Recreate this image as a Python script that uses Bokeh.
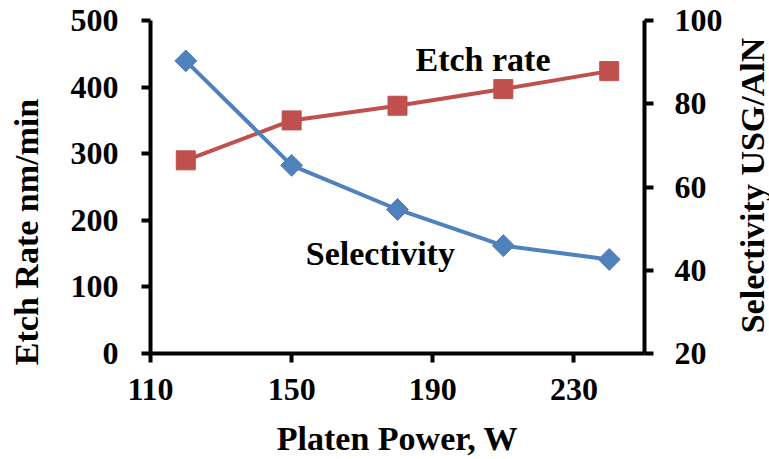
import numpy as np
from bokeh.plotting import figure
from bokeh.layouts import row
from bokeh.models import Range1d, LinearAxis, FixedTicker, Label
from bokeh.embed import file_html
from bokeh.resources import INLINE

# ---- data ----
power = [120, 150, 180, 210, 240]               # Platen Power, W
etch_rate = [290, 350, 372, 397, 424]           # Etch Rate nm/min (left axis)
selectivity = [90.3, 65.2, 54.6, 45.9, 42.6]    # Selectivity USG/AlN (right axis)
x_ticks = [110, 150, 190, 230]
etch_ticks = [0, 100, 200, 300, 400, 500]
sel_ticks = [20, 40, 60, 80, 100]

FONT = "Liberation Serif"
RED = "#C0504D"
BLUE = "#4F81BD"
H = 459
W_LEFT, W_MAIN, W_RIGHT = 50, 680, 39


def side_fig(width):
    f = figure(width=width, height=H, output_backend="svg", toolbar_location=None,
               x_range=Range1d(0, width), y_range=Range1d(0, H),
               x_axis_location=None, y_axis_location=None,
               min_border=0, min_border_left=0, min_border_right=0,
               min_border_top=0, min_border_bottom=0, frame_align=False)
    f.outline_line_color = None
    f.grid.visible = False
    f.background_fill_color = "white"
    f.border_fill_color = "white"
    return f


def title_label(text, x, y, angle=0.0, align="center", baseline="middle"):
    return Label(x=x, y=y, text=text, angle=angle, text_align=align,
                 text_baseline=baseline, text_font=FONT, text_font_style="bold",
                 text_font_size="34px", text_color="black")


# ---- main chart ----
p = figure(width=W_MAIN, height=H, output_backend="svg", toolbar_location=None,
           x_range=Range1d(110, 250), y_range=Range1d(0, 500),
           min_border_left=100, min_border_right=86,
           min_border_top=20, min_border_bottom=104, frame_align=False)
p.extra_y_ranges = {"sel": Range1d(20, 100)}
p.outline_line_color = None
p.xgrid.visible = False
p.ygrid.visible = False
p.background_fill_color = "white"
p.border_fill_color = "white"

right_axis = LinearAxis(y_range_name="sel")
p.add_layout(right_axis, "right")
left_axis = p.left[0]
bottom_axis = p.below[0]

bottom_axis.ticker = FixedTicker(ticks=x_ticks)
left_axis.ticker = FixedTicker(ticks=etch_ticks)
right_axis.ticker = FixedTicker(ticks=sel_ticks)

for ax in (left_axis, right_axis, bottom_axis):
    ax.axis_line_width = 4
    ax.axis_line_color = "black"
    ax.major_tick_line_width = 4
    ax.major_tick_line_color = "black"
    ax.major_tick_out = 9
    ax.major_tick_in = 0
    ax.minor_tick_out = 0
    ax.minor_tick_in = 0
    ax.major_label_text_font = FONT
    ax.major_label_text_font_style = "bold"
    ax.major_label_text_font_size = "32px"
    ax.major_label_text_color = "black"

bottom_axis.major_label_standoff = 16
left_axis.major_label_standoff = 23
right_axis.major_label_standoff = 21

bottom_axis.axis_label = "Platen Power, W"
bottom_axis.axis_label_standoff = 17
bottom_axis.axis_label_text_font = FONT
bottom_axis.axis_label_text_font_style = "bold"
bottom_axis.axis_label_text_font_size = "34px"
bottom_axis.axis_label_text_color = "black"

# series
p.line(power, etch_rate, line_color=RED, line_width=4)
p.scatter(power, etch_rate, marker="square", size=19, fill_color=RED, line_color=RED)
p.line(power, selectivity, line_color=BLUE, line_width=4, y_range_name="sel")
p.scatter(power, selectivity, marker="square", angle=np.pi / 4, size=15.5,
          fill_color=BLUE, line_color=BLUE, y_range_name="sel")

p.add_layout(title_label("Etch rate", 185.1, 441, align="left", baseline="alphabetic"))
p.add_layout(title_label("Selectivity", 154, 149.4, align="left", baseline="alphabetic"))

# ---- vertical axis titles (in narrow side panels) ----
left_fig = side_fig(W_LEFT)
left_fig.add_layout(title_label("Etch Rate nm/min", 25.5, H - 231.5, angle=np.pi / 2))

right_fig = side_fig(W_RIGHT)
right_fig.add_layout(title_label("Selectivity USG/AlN", 21.5, H - 185, angle=np.pi / 2))

layout = row(left_fig, p, right_fig, spacing=0)
open("out.html", "w").write(file_html(layout, INLINE))
